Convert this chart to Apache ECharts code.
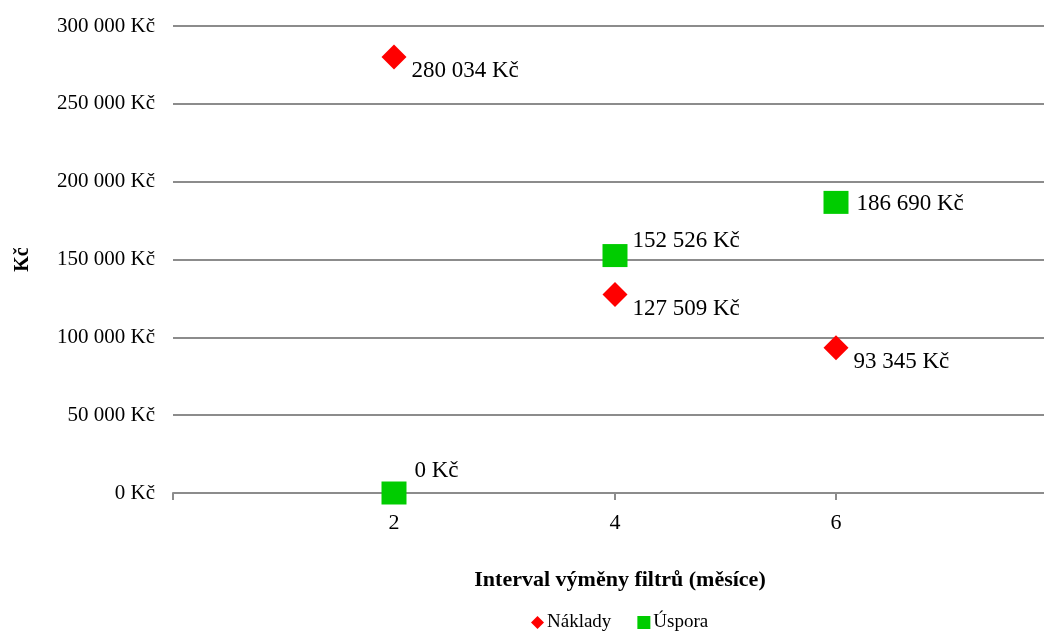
<!DOCTYPE html>
<html>
<head>
<meta charset="utf-8">
<script src="https://cdn.jsdelivr.net/npm/echarts@6/dist/echarts.min.js"></script>
<style>
  html, body { margin: 0; padding: 0; background: #fff; }
  #chart { width: 1044px; height: 631px; }
</style>
</head>
<body>
<div id="chart"></div>
<script>
// interval (months)
const intervals = [2, 4, 6];
// Náklady (costs), Kč
const naklady = [280034, 127509, 93345];
// Úspora (savings), Kč
const uspora = [0, 152526, 186690];
const yTicks = [0, 50000, 100000, 150000, 200000, 250000, 300000];

const FONT = "'Liberation Serif', 'Times New Roman', serif";
// label offsets for the savings points (as placed in the original)
const usporaLabelOffsets = [[3, -22], [0, -15], [3, 2]];

function kc(v) {
  return String(Math.round(v)).replace(/\B(?=(\d{3})+(?!\d))/g, " ") + " Kč";
}

const chart = echarts.init(document.getElementById("chart"));

chart.setOption({
  animation: false,
  textStyle: { fontFamily: FONT, color: "#000" },
  grid: { left: 173, top: 26, width: 884, bottom: 138, outerBoundsMode: "none", containLabel: false },
  xAxis: {
    type: "value",
    min: 0,
    max: 8,
    interval: 2,
    name: "Interval výměny filtrů (měsíce)",
    nameLocation: "middle",
    nameGap: 76,
    nameTextStyle: { fontFamily: FONT, fontWeight: "bold", fontSize: 22, color: "#000", padding: [0, 0, 0, 10] },
    axisLine: { show: true, lineStyle: { color: "#8c8c8c", width: 2 } },
    axisTick: { show: true, length: 7, lineStyle: { color: "#8c8c8c", width: 2 } },
    axisLabel: {
      fontFamily: FONT, fontSize: 22, color: "#000", margin: 19,
      formatter: (v) => (intervals.includes(v) ? String(v) : "")
    },
    splitLine: { show: false }
  },
  yAxis: {
    type: "value",
    min: yTicks[0],
    max: yTicks[yTicks.length - 1],
    interval: 50000,
    name: "Kč",
    nameLocation: "middle",
    nameGap: 140,
    nameRotate: 90,
    nameTextStyle: { fontFamily: FONT, fontWeight: "bold", fontSize: 20, color: "#000" },
    axisLine: { show: false },
    axisTick: { show: false },
    axisLabel: { fontFamily: FONT, fontSize: 21, color: "#000", margin: 18, formatter: kc },
    splitLine: { show: true, lineStyle: { color: "#8c8c8c", width: 2 } }
  },
  legend: {
    bottom: -6,
    left: 526,
    itemGap: 26,
    itemWidth: 13,
    itemHeight: 13,
    textStyle: { fontFamily: FONT, fontSize: 19, color: "#000", padding: [0, 0, 0, -2] },
    data: [
      { name: "Náklady", icon: "diamond" },
      { name: "Úspora", icon: "rect" }
    ]
  },
  series: [
    {
      name: "Náklady",
      type: "scatter",
      symbol: "diamond",
      symbolSize: 25,
      itemStyle: { color: "#ff0000", opacity: 1 },
      data: intervals.map((x, i) => [x, naklady[i]]),
      label: {
        show: true,
        position: "right",
        offset: [0, 14],
        fontFamily: FONT,
        fontSize: 23,
        color: "#000",
        formatter: (p) => kc(p.value[1])
      }
    },
    {
      name: "Úspora",
      type: "scatter",
      symbol: "rect",
      symbolSize: [25, 23],
      itemStyle: { color: "#00cc00", opacity: 1 },
      data: intervals.map((x, i) => ({
        value: [x, uspora[i]],
        label: { offset: usporaLabelOffsets[i] }
      })),
      label: {
        show: true,
        position: "right",
        fontFamily: FONT,
        fontSize: 23,
        color: "#000",
        formatter: (p) => kc(p.value[1])
      }
    }
  ]
});
</script>
</body>
</html>
